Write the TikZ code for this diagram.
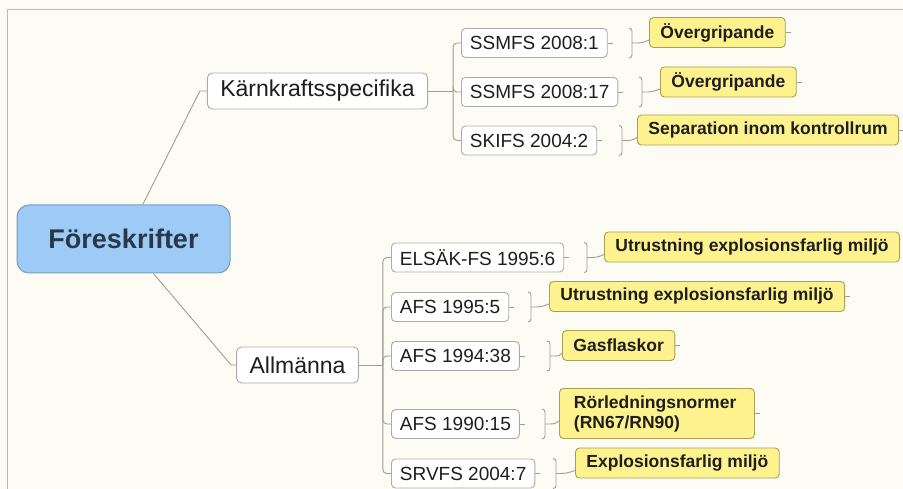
\documentclass[tikz,border=0pt]{standalone}
\usepackage{fontspec}
\setmainfont{Liberation Sans}
\usetikzlibrary{calc}
\definecolor{paper}{HTML}{FDFCF4}
\definecolor{framegray}{HTML}{B8B8B8}
\definecolor{rootblue}{HTML}{9DCBF6}
\definecolor{rootline}{HTML}{7A9CBD}
\definecolor{rootink}{HTML}{27384A}
\definecolor{boxline}{HTML}{ABABAB}
\definecolor{noteyellow}{HTML}{FDF28E}
\definecolor{noteline}{HTML}{A99F55}
\definecolor{linkgray}{HTML}{9E9E94}
\definecolor{ink}{HTML}{1E1E1E}
\tikzset{
  root/.style={draw=rootline,line width=1pt,fill=rootblue,rounded corners=12pt,minimum width=213pt,minimum height=68pt,text=rootink,font=\fontsize{27}{30}\selectfont\bfseries},
  topic/.style={draw=boxline,line width=0.9pt,fill=white,rounded corners=5pt,inner xsep=13pt,minimum height=36pt,text=ink,font=\fontsize{23}{26}\selectfont},
  law/.style={draw=boxline,line width=0.9pt,fill=white,rounded corners=4pt,inner xsep=8.5pt,minimum height=29pt,text=ink,font=\fontsize{19}{22}\selectfont},
  note/.style={draw=noteline,line width=0.9pt,fill=noteyellow,rounded corners=4pt,inner xsep=11pt,minimum height=30pt,text=ink,font=\fontsize{17.5}{20}\selectfont\bfseries},
  link/.style={draw=linkgray,line width=0.9pt},
  bus/.style={link,rounded corners=4pt},
  brace/.style={link,rounded corners=3pt}
}
\begin{document}
\begin{tikzpicture}[x=1pt,y=-1pt]
\path[use as bounding box,fill=paper] (0,0) rectangle (903,489);
\draw[framegray,line width=1pt] (903,10) -- (7,10) -- (7,489);

\node[root](F) at (123.5,239) {Föreskrifter};
\node[topic](K) at (317.5,91) {Kärnkraftsspecifika};
\node[topic](A) at (297.5,365) {Allmänna};

\node[law,anchor=west](k1) at (461,43) {SSMFS 2008:1};
\node[law,anchor=west](k2) at (461,92) {SSMFS 2008:17};
\node[law,anchor=west](k3) at (461,140.5) {SKIFS 2004:2};
\node[law,anchor=west](a1) at (391,257.5) {ELSÄK-FS 1995:6};
\node[law,anchor=west](a2) at (391,307) {AFS 1995:5};
\node[law,anchor=west](a3) at (391,356) {AFS 1994:38};
\node[law,anchor=west](a4) at (391,424) {AFS 1990:15};
\node[law,anchor=west](a5) at (391,473.5) {SRVFS 2004:7};

\node[note,anchor=west](n1) at (649,32.5) {Övergripande};
\node[note,anchor=west](n2) at (660,82) {Övergripande};
\node[note,anchor=west](n3) at (637,130) {Separation inom kontrollrum};
\node[note,anchor=west](n4) at (604,247) {Utrustning explosionsfarlig miljö};
\node[note,anchor=west](n5) at (549,296.5) {Utrustning explosionsfarlig miljö};
\node[note,anchor=west](n6) at (562,345.5) {Gasflaskor};
\node[note,anchor=west,align=left,text width=166pt,inner xsep=14.5pt,minimum height=50pt](n7) at (559,413.5) {Rörledningsnormer\\(RN67/RN90)};
\node[note,anchor=west](n8) at (575,463) {Explosionsfarlig miljö};

\draw[link] (K.west) -- ++(-7,0) -- ($(F.north west)!0.59!(F.north east)$);
\draw[link] (A.west) -- ++(-5,0) -- ($(F.south west)!0.64!(F.south east)$);

\draw[link] (K.east) -- ++(25,0) coordinate (kbus);
\foreach \c in {k1,k2,k3} \draw[bus] (kbus) |- (\c.west);
\draw[link] (A.east) -- ++(24,0) coordinate (abus);
\foreach \c in {a1,a2,a3,a4,a5} \draw[bus] (abus) |- (\c.west);

\foreach \s in {k1,k2,k3,a1,a2,a3,a4,a5,n1,n2,n3,n5,n6,n7} \draw[link] (\s.east) -- ++(5,0);

\foreach \n/\bx/\y in {n1/632/43,n2/642/92,n3/622/140.5,n4/587/257.5,n5/531/307,n6/550/356,n7/545/424,n8/556/473.5}
  \draw[brace] (\bx-3,\y-15) -| (\bx,\y) |- (\bx-3,\y+15) (\bx,\y) .. controls (\bx+10,\y) .. (\n.west |- 0,\y-3);
\end{tikzpicture}
\end{document}
